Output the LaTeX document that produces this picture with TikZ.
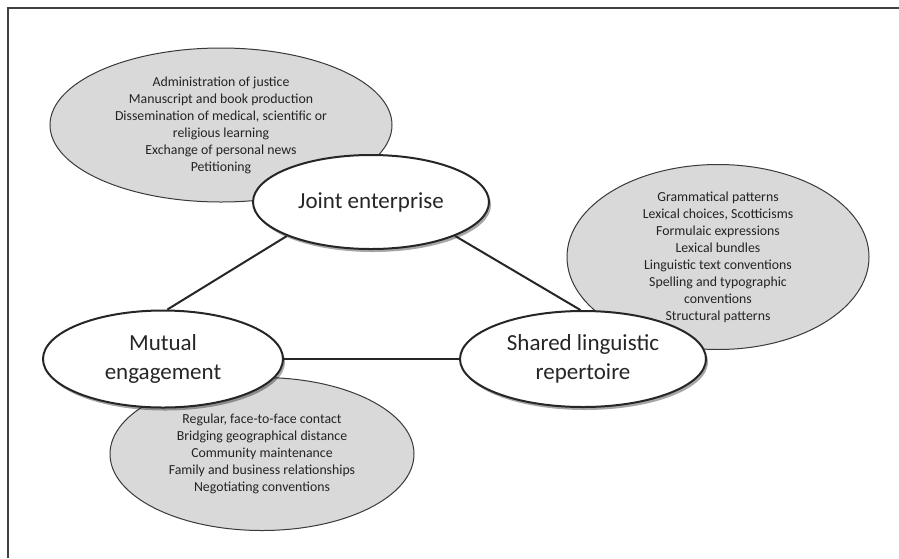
\documentclass[tikz,border=0pt]{standalone}
\usepackage{fontspec}
\setmainfont{Carlito}
\usepackage{xcolor}
\usepackage{tikz}
\usetikzlibrary{shapes.geometric, shadows}

\definecolor{listgray}{RGB}{217,217,217}
\definecolor{inkgray}{RGB}{35,35,35}

\tikzset{
    listbubble/.style={ellipse, draw=inkgray!90, line width=1pt, fill=listgray,
        inner sep=0pt, align=center, text=inkgray,
        font=\fontsize{13.8}{17}\selectfont},
    mainbubble/.style={ellipse, draw=black!85, line width=2pt, fill=white,
        inner sep=0pt, align=center, text=black!85,
        font=\fontsize{23}{28.5}\selectfont,
        drop shadow={shadow xshift=2pt, shadow yshift=-3pt, opacity=0.35, fill=black}},
    link/.style={draw=black!85, line width=2pt}
}

\begin{document}
\begin{tikzpicture}[x=1pt, y=-1pt]
    \useasboundingbox (0,0) rectangle (899,558);
    % outer frame
    \draw[black!75, line width=1.6pt] (8,558) -- (8,8) -- (899,8);

    % lists behind the three main ellipses
    \node (jointlist) [listbubble, minimum width=342pt, minimum height=154pt] at (221,125)
        {Administration of justice\\Manuscript and book production\\Dissemination of medical, scientific or\\religious learning\\Exchange of personal news\\Petitioning};
    \node (sharedlist) [listbubble, minimum width=302pt, minimum height=161pt] at (718,257)
        {Grammatical patterns\\Lexical choices, Scotticisms\\Formulaic expressions\\Lexical bundles\\Linguistic text conventions\\Spelling and typographic\\conventions\\Structural patterns};
    \node (mutuallist) [listbubble, minimum width=304pt, minimum height=153pt] at (262,454)
        {Regular, face-to-face contact\\Bridging geographical distance\\Community maintenance\\Family and business relationships\\Negotiating conventions};

    % main ellipses
    \node (joint) [mainbubble, minimum width=236pt, minimum height=94pt] at (371,202) {Joint enterprise};
    \node (mutual) [mainbubble, minimum width=240pt, minimum height=97pt] at (163,359) {Mutual\\engagement};
    \node (shared) [mainbubble, minimum width=246pt, minimum height=96pt] at (583,359) {Shared linguistic\\repertoire};

    \draw[link] (joint.202) -- (mutual.85);
    \draw[link] (joint.338) -- (shared.93);
    \draw[link] (mutual) -- (shared);
\end{tikzpicture}
\end{document}
